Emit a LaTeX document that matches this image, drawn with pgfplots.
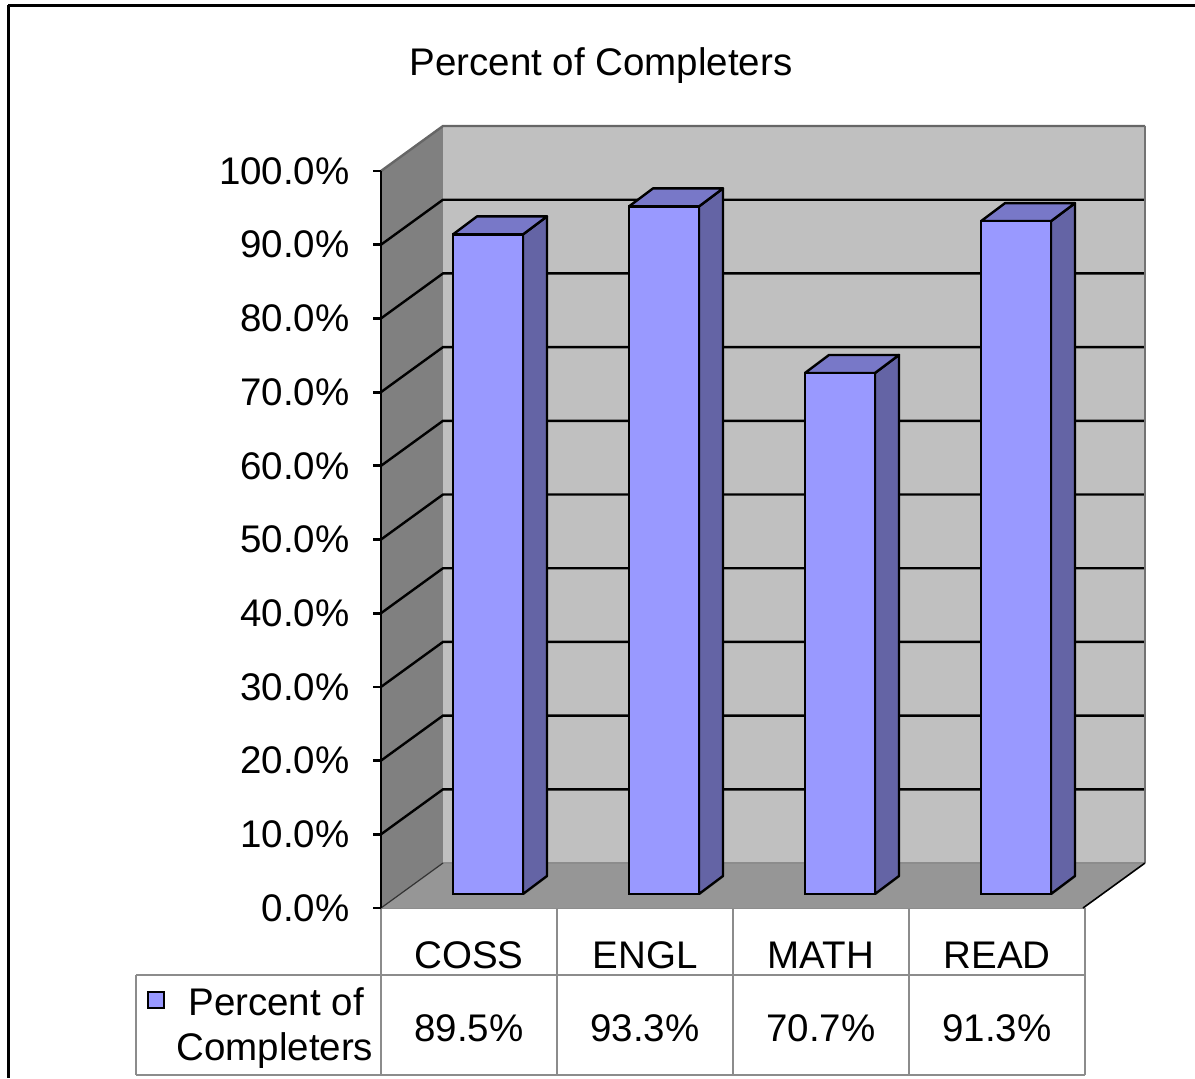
\documentclass[border=0pt]{standalone}
\usepackage{pgfplots}
\pgfplotsset{compat=1.18}
\usepackage{fontspec}
\setmainfont{Liberation Sans}
\definecolor{leftwall}{HTML}{808080}
\definecolor{backwall}{HTML}{C0C0C0}
\definecolor{floorc}{HTML}{969696}
\definecolor{barfront}{HTML}{9999FF}
\definecolor{bartop}{HTML}{7878C8}
\definecolor{barside}{HTML}{6464A5}
\definecolor{tablegray}{HTML}{8C8C8C}
\newcommand{\chartfont}{\fontsize{19.25}{23}\selectfont}
\begin{document}
\chartfont
\begin{tikzpicture}
\path[use as bounding box] (0,0) rectangle (597.5pt,-539pt);
\begin{scope}[x=0.5pt,y=-0.5pt]
  % outer frame
  \draw[black, line width=1.5pt] (8,5) -- (1195,5);
  \draw[black, line width=1.5pt] (8,5) -- (8,1078);
  % title
  \node[anchor=base, inner sep=0pt] at (601,75) {Percent of Completers};
  % data table
  \begin{scope}[tablegray, line width=1pt]
    \draw (381,908) -- (1085,908);
    \draw (136,975) -- (1085,975);
    \draw (136,1075) -- (1085,1075);
    \draw (136,975) -- (136,1075);
    \draw (381,908) -- (381,1075);
    \draw (557,908) -- (557,1075);
    \draw (733,908) -- (733,1075);
    \draw (909,908) -- (909,1075);
    \draw (1085,908) -- (1085,1075);
  \end{scope}
  \node[anchor=base, inner sep=0pt] at (469,968) {COSS};
  \node[anchor=base, inner sep=0pt] at (645,968) {ENGL};
  \node[anchor=base, inner sep=0pt] at (821,968) {MATH};
  \node[anchor=base, inner sep=0pt] at (997,968) {READ};
  \node[anchor=base, inner sep=0pt] at (469,1041) {89.5\%};
  \node[anchor=base, inner sep=0pt] at (645,1041) {93.3\%};
  \node[anchor=base, inner sep=0pt] at (821,1041) {70.7\%};
  \node[anchor=base, inner sep=0pt] at (997,1041) {91.3\%};
  % legend key
  \draw[black, line width=1.3pt, fill=barfront] (148,992) rectangle (164,1008);
  \node[anchor=base west, inner sep=0pt] at (188,1015) {Percent of};
  \node[anchor=base west, inner sep=0pt] at (176,1060) {Completers};
\end{scope}
\begin{axis}[
  at={(190.5pt,-454pt)}, anchor=south west,
  scale only axis, width=351pt, height=368.5pt,
  xmin=0, xmax=702, ymin=0, ymax=100,
  clip=false, axis on top,
  axis x line=none, axis y line*=left,
  y axis line style={black, line width=1.4pt},
  ytick={0,10,...,100},
  tick align=outside, major tick length=4pt,
  ytick style={black, line width=1.4pt},
  /pgf/number format/assume math mode=true,
  yticklabel={\pgfmathprintnumber[fixed,fixed zerofill,precision=1]{\tick}\%},
  yticklabel style={font=\chartfont, anchor=east, inner sep=0pt, xshift=-11.5pt},
]
  % walls and floor
  \fill[leftwall] (0,0) -- (0,100) -- (62,106.106) -- (62,6.106) -- cycle;
  \fill[backwall] (62,6.106) -- (764,6.106) -- (764,106.106) -- (62,106.106) -- cycle;
  \fill[floorc] (0,0) -- (702,0) -- (764,6.106) -- (62,6.106) -- cycle;
  % gridlines
  \begin{scope}[black, line width=1.2pt]
  \draw (0,10) -- (62,16.106) -- (764,16.106);
  \draw (0,20) -- (62,26.106) -- (764,26.106);
  \draw (0,30) -- (62,36.106) -- (764,36.106);
  \draw (0,40) -- (62,46.106) -- (764,46.106);
  \draw (0,50) -- (62,56.106) -- (764,56.106);
  \draw (0,60) -- (62,66.106) -- (764,66.106);
  \draw (0,70) -- (62,76.106) -- (764,76.106);
  \draw (0,80) -- (62,86.106) -- (764,86.106);
  \draw (0,90) -- (62,96.106) -- (764,96.106);
  \end{scope}
  \draw[black!60, line width=1.2pt] (0,100) -- (62,106.106) -- (764,106.106);
  \draw[black!55, line width=1pt] (764,6.106) -- (764,106.106);
  \draw[black!45, line width=0.6pt] (62,6.106) -- (764,6.106);
  \draw[black, line width=0.8pt] (702,0) -- (764,6.106);
  \draw[black!80, line width=0.6pt] (0,0) -- (62,6.106);
  % bar side faces
  \addplot[fill=barside, draw=black, line width=1.2pt, line join=round] coordinates {(142,1.9) (142,91.4) (166,93.84) (166,4.34) (142,1.9)};
  \addplot[fill=barside, draw=black, line width=1.2pt, line join=round] coordinates {(318,1.9) (318,95.2) (342,97.64) (342,4.34) (318,1.9)};
  \addplot[fill=barside, draw=black, line width=1.2pt, line join=round] coordinates {(494,1.9) (494,72.6) (518,75.04) (518,4.34) (494,1.9)};
  \addplot[fill=barside, draw=black, line width=1.2pt, line join=round] coordinates {(670,1.9) (670,93.2) (694,95.64) (694,4.34) (670,1.9)};
  % bar top faces
  \addplot[fill=bartop, draw=black, line width=1.2pt, line join=round] coordinates {(72,91.4) (142,91.4) (166,93.84) (96,93.84) (72,91.4)};
  \addplot[fill=bartop, draw=black, line width=1.2pt, line join=round] coordinates {(248,95.2) (318,95.2) (342,97.64) (272,97.64) (248,95.2)};
  \addplot[fill=bartop, draw=black, line width=1.2pt, line join=round] coordinates {(424,72.6) (494,72.6) (518,75.04) (448,75.04) (424,72.6)};
  \addplot[fill=bartop, draw=black, line width=1.2pt, line join=round] coordinates {(600,93.2) (670,93.2) (694,95.64) (624,95.64) (600,93.2)};
  % bar front faces
  \addplot[ybar, bar width=70, bar shift=0pt, yshift=7pt, fill=barfront, draw=black, line width=1.2pt] coordinates {(107,89.5) (283,93.3) (459,70.7) (635,91.3)};
\end{axis}
\end{tikzpicture}
\end{document}
